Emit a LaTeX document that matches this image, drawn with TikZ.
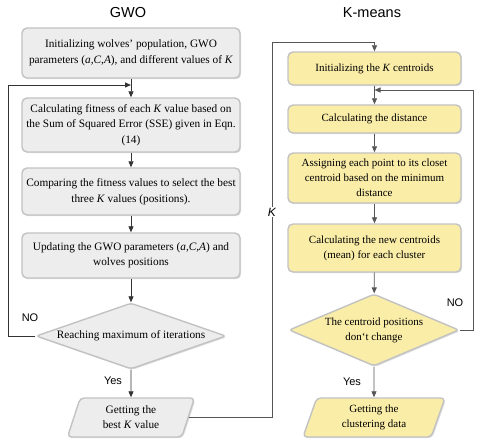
\documentclass[tikz,border=0pt]{standalone}
\usepackage{fontspec}
\setmainfont{Liberation Serif}
\newfontfamily\labelfont{Liberation Sans}
\usetikzlibrary{shapes.geometric,arrows.meta,shadows}
\definecolor{gfill}{HTML}{EDEDED}
\definecolor{yfill}{HTML}{FAEDA8}
\definecolor{bord}{HTML}{C2C2C2}
\definecolor{lineL}{HTML}{333333}
\definecolor{lineR}{HTML}{555555}
\tikzset{
  shade/.style={drop shadow={shadow xshift=1.2pt,shadow yshift=-1.2pt,opacity=0.25}},
  boxbase/.style={rectangle, rounded corners=5pt, draw=bord, line width=1.4pt, align=center,
    inner sep=0pt, shade},
  gbox/.style={boxbase, fill=gfill, minimum width=218pt,
    font=\fontsize{11.3}{15.5}\selectfont},
  ybox/.style={boxbase, fill=yfill, minimum width=173pt,
    font=\fontsize{11}{15}\selectfont},
  dia/.style={diamond, draw=bord, line width=1.4pt, align=center, inner sep=0pt,
    shade, rounded corners=3pt},
  para/.style={trapezium, trapezium left angle=63, trapezium right angle=117,
    trapezium stretches body, draw=bord, line width=1.4pt, align=center, inner sep=1pt,
    rounded corners=4pt, shade},
  arrL/.style={draw=lineL, line width=0.8pt, -{Triangle[length=6pt,width=5pt]}},
  arrR/.style={draw=lineR, line width=0.8pt, -{Triangle[length=6pt,width=5pt]}},
  lab/.style={font=\labelfont\fontsize{11}{13}\selectfont, inner sep=1pt},
  ttl/.style={font=\labelfont\fontsize{14.5}{17}\selectfont, inner sep=0pt}
}
\begin{document}
\begin{tikzpicture}[x=1pt,y=-1pt]
\useasboundingbox (0,0) rectangle (480,444);
% titles
\node[ttl] (t1) at (128,13) {GWO};
\node[ttl] (t2) at (372,13) {K-means};
% left column
\node[gbox, minimum height=50pt] (b1) at (131,53) {Initializing wolves’ population, GWO\\parameters (\textit{a,C,A}), and different values of \textit{K}};
\node[gbox, minimum height=54pt] (b2) at (131,125) {Calculating fitness of each \textit{K} value based on\\the Sum of Squared Error (SSE) given in Eqn.\\(14)};
\node[gbox, minimum height=47pt] (b3) at (131,191.5) {Comparing the fitness values to select the best\\three \textit{K} values (positions).};
\node[gbox, minimum height=45pt] (b4) at (131,255.5) {Updating the GWO parameters (\textit{a,C,A}) and\\wolves positions};
\node[dia, fill=gfill, minimum width=190pt, minimum height=66pt, aspect=2.9,
  font=\fontsize{11.3}{15}\selectfont] (d1) at (131,336) {Reaching maximum of iterations};
\node[para, fill=gfill, minimum width=127pt, minimum height=39pt,
  font=\fontsize{11.3}{15}\selectfont] (p1) at (131,417.5) {Getting the\\best \textit{K} value};
% right column
\node[ybox, minimum height=33pt] (r1) at (374.5,68.5) {Initializing the \textit{K} centroids};
\node[ybox, minimum height=28pt] (r2) at (374.5,119) {Calculating the distance};
\node[ybox, minimum height=50pt] (r3) at (374.5,178) {Assigning each point to its closet\\centroid based on the minimum\\distance};
\node[ybox, minimum height=48pt] (r4) at (374.5,248) {Calculating the new centroids\\(mean) for each cluster};
\node[dia, fill=yfill, minimum width=170pt, minimum height=72pt, aspect=2.4,
  font=\fontsize{11}{15}\selectfont] (rd) at (374,330) {The centroid positions\\don`t change};
\node[para, fill=yfill, minimum width=142pt, minimum height=39pt,
  font=\fontsize{11}{15}\selectfont] (rp) at (374,417.5) {Getting the\\clustering data};
% left connectors
\draw[arrL] (b1) -- (b2);
\draw[arrL] (b2) -- (b3);
\draw[arrL] (b3) -- (b4);
\draw[arrL] (b4) -- (d1);
\draw[arrL] (d1) -- (p1);
\coordinate (lc) at (8,85);
\coordinate (lj) at (131,85);
\draw[arrL] (d1.west) -| (lc) -- (lj);
% transfer of K
\coordinate (kb) at (272,42);
\draw[arrR] (p1.east) -| (kb) -| (r1.north);
\node[lab, fill=white, font=\labelfont\itshape\fontsize{12}{14}\selectfont] (klab) at (272,212) {K};
% right connectors
\draw[arrR] (r1) -- (r2);
\draw[arrR] (r2) -- (r3);
\draw[arrR] (r3) -- (r4);
\draw[arrR] (r4) -- (rd);
\draw[arrR] (rd) -- (rp);
\coordinate (nc) at (473,90);
\coordinate (nj) at (374.5,90);
\draw[arrR] (rd.east) -| (nc) -- (nj);
% labels
\node[lab] (no1) at (30,318) {NO};
\node[lab] (yes1) at (113,381) {Yes};
\node[lab] (no2) at (455,303) {NO};
\node[lab] (yes2) at (352,382) {Yes};
\end{tikzpicture}
\end{document}
